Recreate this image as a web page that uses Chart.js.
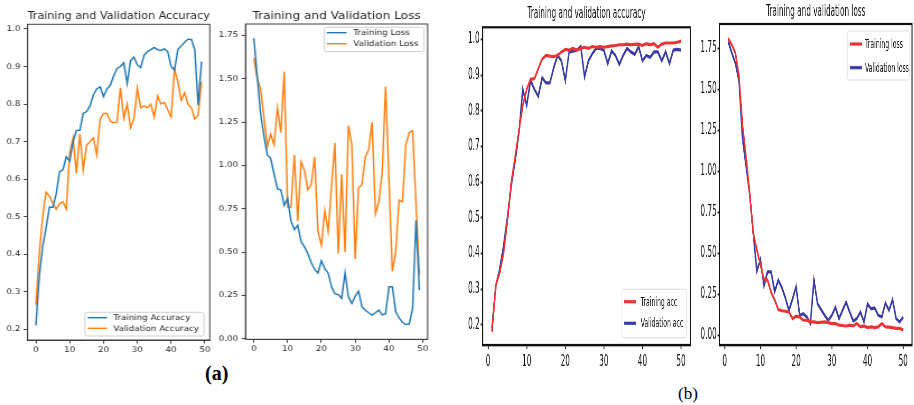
<!DOCTYPE html>
<html><head><meta charset="utf-8">
<script src="https://cdn.jsdelivr.net/npm/chart.js@4.4.1/dist/chart.umd.min.js"></script>
<style>
html,body{margin:0;padding:0;background:#fff;width:914px;height:405px;overflow:hidden;}
.panel{position:absolute;transform-origin:0 0;}
.panel canvas{display:block;}
.lbl{position:absolute;font-family:"Liberation Serif","Times New Roman",serif;color:#000;line-height:1;white-space:nowrap;}
</style></head><body>
<div id="pA1" class="panel"><canvas id="cA1"></canvas></div>
<div id="pA2" class="panel"><canvas id="cA2"></canvas></div>
<div id="pB1" class="panel"><canvas id="cB1"></canvas></div>
<div id="pB2" class="panel"><canvas id="cB2"></canvas></div>
<div class="lbl" style="left:205px;top:363px;font-size:20px;font-weight:bold">(a)</div>
<div class="lbl" style="left:678px;top:385px;font-size:17px;">(b)</div>
<script>
// ---------- data ----------
const epochsA = [0,1,2,3,4,5,6,7,8,9,10,11,12,13,14,15,16,17,18,19,20,21,22,23,24,25,26,27,28,29,30,31,32,33,34,35,36,37,38,39,40,41,42,43,44,45,46,47,48,49];
const epochsB = [1,2,3,4,5,6,7,8,9,10,11,12,13,14,15,16,17,18,19,20,21,22,23,24,25,26,27,28,29,30,31,32,33,34,35,36,37,38,39,40,41,42,43,44,45,46,47,48,49,50];

const accTrainA = [0.21,0.34,0.42,0.47,0.525,0.525,0.56,0.62,0.625,0.66,
  0.648,0.70,0.73,0.73,0.775,0.78,0.795,0.824,0.84,0.846,
  0.82,0.84,0.85,0.875,0.895,0.90,0.91,0.855,0.915,0.925,
  0.905,0.897,0.93,0.94,0.945,0.951,0.945,0.943,0.947,0.94,
  0.90,0.89,0.945,0.955,0.965,0.973,0.972,0.945,0.797,0.913];
const accValA = [0.265,0.40,0.50,0.565,0.555,0.535,0.52,0.535,0.54,0.52,
  0.67,0.71,0.615,0.72,0.625,0.69,0.70,0.71,0.665,0.76,
  0.775,0.775,0.755,0.75,0.752,0.843,0.762,0.80,0.737,0.76,
  0.842,0.79,0.795,0.79,0.80,0.765,0.822,0.80,0.805,0.785,
  0.765,0.892,0.86,0.81,0.83,0.80,0.79,0.76,0.77,0.86];
const lossTrainA = [1.735,1.52,1.30,1.17,1.06,1.04,0.95,0.865,0.86,0.77,
  0.81,0.68,0.63,0.655,0.56,0.53,0.49,0.44,0.40,0.38,
  0.45,0.405,0.38,0.30,0.26,0.255,0.233,0.38,0.242,0.204,
  0.245,0.275,0.185,0.165,0.15,0.137,0.15,0.165,0.138,0.145,
  0.30,0.30,0.156,0.12,0.095,0.082,0.085,0.175,0.684,0.28];
const lossValA = [1.62,1.50,1.44,1.28,1.11,1.18,1.12,1.33,1.19,1.54,
  0.76,0.76,1.06,0.68,1.02,0.97,0.86,0.89,1.05,0.62,
  0.54,0.74,0.62,0.88,1.13,0.49,0.95,0.50,1.23,1.12,
  0.46,0.87,0.89,1.05,1.09,1.25,0.72,0.79,0.96,1.456,
  0.92,0.39,0.50,0.80,0.79,1.12,1.19,1.20,0.78,0.37];

const accTrainB = [0.18,0.31,0.345,0.40,0.49,0.60,0.67,0.745,0.815,0.86,
  0.888,0.89,0.918,0.945,0.955,0.953,0.952,0.955,0.965,0.972,
  0.97,0.975,0.97,0.975,0.978,0.975,0.98,0.978,0.98,0.978,
  0.98,0.982,0.983,0.985,0.985,0.987,0.985,0.986,0.987,0.983,
  0.988,0.985,0.988,0.978,0.987,0.99,0.99,0.99,0.992,0.995];
const accValB = [0.19,0.31,0.355,0.42,0.50,0.59,0.66,0.74,0.86,0.815,
  0.885,0.86,0.84,0.893,0.878,0.878,0.92,0.955,0.94,0.885,
  0.965,0.967,0.97,0.98,0.895,0.94,0.96,0.975,0.975,0.97,
  0.932,0.968,0.955,0.93,0.955,0.975,0.965,0.958,0.98,0.94,
  0.955,0.95,0.965,0.965,0.94,0.965,0.932,0.97,0.972,0.97];
const lossTrainB = [1.81,1.77,1.72,1.58,1.28,1.08,0.87,0.62,0.52,0.43,
  0.34,0.335,0.26,0.215,0.155,0.148,0.145,0.14,0.10,0.115,
  0.11,0.09,0.09,0.08,0.08,0.075,0.078,0.08,0.075,0.07,
  0.07,0.06,0.058,0.055,0.06,0.055,0.07,0.05,0.055,0.045,
  0.05,0.045,0.05,0.07,0.05,0.048,0.045,0.04,0.04,0.03];
const lossValB = [1.79,1.72,1.66,1.55,1.20,1.03,0.86,0.62,0.39,0.46,
  0.30,0.385,0.385,0.265,0.335,0.29,0.225,0.15,0.22,0.295,
  0.12,0.13,0.11,0.07,0.335,0.19,0.155,0.12,0.09,0.12,
  0.17,0.10,0.15,0.20,0.14,0.085,0.10,0.14,0.08,0.19,
  0.16,0.165,0.12,0.11,0.195,0.15,0.215,0.10,0.08,0.11];

const xTicks = [0,10,20,30,40,50];
const accTicks = [0.2,0.3,0.4,0.5,0.6,0.7,0.8,0.9,1.0];
const lossTicks = [0,0.25,0.5,0.75,1.0,1.25,1.5,1.75];

// ---------- helpers ----------
function pts(xs, ys){ return xs.map((x,i)=>({x:x, y:ys[i]})); }

function makePanel(c){
  const wrap = document.getElementById(c.wrap);
  const cv = document.getElementById(c.canvas);
  const cw = Math.round(c.W / c.sx), ch = c.H;
  wrap.style.left = c.L + 'px'; wrap.style.top = c.T + 'px';
  wrap.style.transform = 'scaleX(' + c.sx + ')';
  cv.width = cw; cv.height = ch;
  const X = v => (v - c.L) / c.sx, Y = v => v - c.T;
  const aL = X(c.area.l), aR = X(c.area.r), aT = Y(c.area.t), aB = Y(c.area.b);
  const lh = c.titleSize * 1.2;
  const pt = Y(c.titleCY) - lh / 2;
  const pb = aT - pt - lh;
  const lg = c.legend;
  const legendPlugin = {
    id: 'mplLegend_' + c.canvas,
    afterDraw(chart){
      const ctx = chart.ctx; ctx.save();
      const x0 = X(lg.box[0]), y0 = Y(lg.box[1]), x1 = X(lg.box[2]), y1 = Y(lg.box[3]);
      ctx.beginPath();
      ctx.roundRect(x0, y0, x1 - x0, y1 - y0, lg.radius);
      ctx.fillStyle = 'rgba(255,255,255,0.85)'; ctx.fill();
      ctx.strokeStyle = lg.edge; ctx.lineWidth = 1; ctx.stroke();
      ctx.font = lg.fontSize + 'px ' + c.family;
      ctx.textBaseline = 'middle'; ctx.textAlign = 'left';
      chart.data.datasets.forEach((ds, i) => {
        const y = Y(lg.rows[i]);
        ctx.strokeStyle = ds.borderColor; ctx.lineWidth = lg.lineWidth;
        ctx.beginPath(); ctx.moveTo(X(lg.line[0]), y); ctx.lineTo(X(lg.line[1]), y); ctx.stroke();
        ctx.fillStyle = c.textColor;
        ctx.fillText(ds.label, X(lg.textX), y + 0.5);
      });
      ctx.restore();
    }
  };
  const boxPlugin = {
    id: 'box_' + c.canvas,
    afterDatasetsDraw(chart){
      const a = chart.chartArea, ctx = chart.ctx;
      ctx.save(); ctx.strokeStyle = c.spineColor; ctx.lineWidth = c.spineWidth;
      ctx.strokeRect(a.left, a.top, a.right - a.left, a.bottom - a.top);
      ctx.restore();
    }
  };
  const font = {family: c.family, size: c.tickSize};
  new Chart(cv, {
    type: 'line',
    data: {datasets: c.datasets.map(d => ({
      label: d.label, data: pts(d.x, d.y), borderColor: d.color, backgroundColor: d.color,
      borderWidth: c.lineWidth, pointRadius: 0, tension: 0, fill: false
    }))},
    options: {
      responsive: false, animation: false, devicePixelRatio: 1,
      layout: {padding: {left: 0, top: 0, bottom: 0, right: cw - aR}},
      plugins: {
        legend: {display: false}, tooltip: {enabled: false},
        title: {display: true, text: c.title, fullSize: false, color: c.textColor,
          font: {family: c.family, size: c.titleSize, weight: 'normal', lineHeight: 1.2},
          padding: {top: pt, bottom: pb}}
      },
      scales: {
        x: {type: 'linear', position: 'bottom', min: c.xMin, max: c.xMax,
          afterBuildTicks: s => { s.ticks = xTicks.map(v => ({value: v})); },
          afterFit: s => { s.height = ch - aB; },
          ticks: {autoSkip: false, maxRotation: 0, minRotation: 0, font: font, color: c.textColor,
            padding: c.xPad, callback: v => String(v)},
          grid: {display: true, drawOnChartArea: false, drawTicks: true, tickLength: c.tickLenX,
            tickColor: c.spineColor, tickWidth: c.tickWidth, color: c.spineColor},
          border: {display: true, color: c.spineColor, width: c.spineWidth}},
        y: {type: 'linear', position: 'left', min: c.yMin, max: c.yMax,
          afterBuildTicks: s => { s.ticks = c.yTicks.map(v => ({value: v})); },
          afterFit: s => { s.width = aL; },
          ticks: {autoSkip: false, font: font, color: c.textColor, padding: c.yPad,
            callback: v => Number(v).toFixed(c.dec)},
          grid: {display: true, drawOnChartArea: false, drawTicks: true, tickLength: c.tickLenY,
            tickColor: c.spineColor, tickWidth: c.tickWidth, color: c.spineColor},
          border: {display: true, color: c.spineColor, width: c.spineWidth}}
      }
    },
    plugins: [boxPlugin, legendPlugin]
  });
}

const tabBlue = '#1f77b4', tabOrange = '#ff7f0e';
const red = '#ec3434', navy = '#3a3ca6';
const famA = '"DejaVu Sans", sans-serif';

const A = {sx: 1.12, H: 362, titleSize: 10.8, tickSize: 7.8, family: famA, textColor: '#262626',
  spineColor: '#404040', spineWidth: 1, tickWidth: 1, tickLenX: 3.5, tickLenY: 3.5, xPad: 1.5, yPad: 3,
  lineWidth: 1.4, xMin: -2.45, xMax: 51.45};
const B = {sx: 0.47, H: 382, titleSize: 15.5, tickSize: 15.5, family: famA, textColor: '#111',
  spineColor: '#111', spineWidth: 2.2, tickWidth: 1.8, tickLenX: 4, tickLenY: 4, xPad: 4, yPad: 2,
  lineWidth: 3.2, xMin: -1.45, xMax: 52.45};

makePanel(Object.assign({}, A, {wrap: 'pA1', canvas: 'cA1', L: 0, T: 0, W: 215,
  area: {l: 27.6, t: 24.3, r: 209.8, b: 340}, titleCY: 16,
  title: 'Training and Validation Accuracy', yMin: 0.1715, yMax: 1.0125, yTicks: accTicks, dec: 1,
  datasets: [{label: 'Training Accuracy', x: epochsA, y: accTrainA, color: tabBlue},
             {label: 'Validation Accuracy', x: epochsA, y: accValA, color: tabOrange}],
  legend: {box: [85, 312.3, 204, 336], line: [87.7, 107], rows: [317.7, 328.3], textX: 113.3,
    fontSize: 7.8, lineWidth: 1.4, radius: 2, edge: '#d0d0d0'}}));

makePanel(Object.assign({}, A, {wrap: 'pA2', canvas: 'cA2', L: 215, T: 0, W: 215,
  area: {l: 245.5, t: 24, r: 428.3, b: 339.3}, titleCY: 16.3,
  title: 'Training and Validation Loss', yMin: -0.003, yMax: 1.816, yTicks: lossTicks, dec: 2,
  datasets: [{label: 'Training Loss', x: epochsA, y: lossTrainA, color: tabBlue},
             {label: 'Validation Loss', x: epochsA, y: lossValA, color: tabOrange}],
  legend: {box: [324.3, 27.3, 424, 51.7], line: [326.7, 346.7], rows: [32.7, 43.7], textX: 353.3,
    fontSize: 7.8, lineWidth: 1.4, radius: 2, edge: '#d0d0d0'}}));

makePanel(Object.assign({}, B, {wrap: 'pB1', canvas: 'cB1', L: 450, T: 0, W: 243,
  area: {l: 482.5, t: 27.3, r: 690.5, b: 345}, titleCY: 13.8,
  title: 'Training and validation accuracy', yMin: 0.143, yMax: 1.034, yTicks: accTicks, dec: 1,
  datasets: [{label: 'Training acc', x: epochsB, y: accTrainB, color: red},
             {label: 'Validation acc', x: epochsB, y: accValB, color: navy}],
  legend: {box: [621.7, 289.3, 686.7, 337.7], line: [624, 636], rows: [301.7, 323.3], textX: 640.7,
    fontSize: 13, lineWidth: 3.2, radius: 4, edge: '#dddddd'}}));

makePanel(Object.assign({}, B, {wrap: 'pB2', canvas: 'cB2', L: 693, T: 0, W: 221,
  area: {l: 719.5, t: 24, r: 912, b: 345}, titleCY: 12,
  title: 'Training and validation loss', yMin: -0.061, yMax: 1.898, yTicks: lossTicks, dec: 2,
  datasets: [{label: 'Training loss', x: epochsB, y: lossTrainB, color: red},
             {label: 'Validation loss', x: epochsB, y: lossValB, color: navy}],
  legend: {box: [847.3, 31, 909.3, 80], line: [850, 861.7], rows: [44, 67.7], textX: 865,
    fontSize: 13, lineWidth: 3.2, radius: 4, edge: '#dddddd'}}));
</script>
</body></html>
